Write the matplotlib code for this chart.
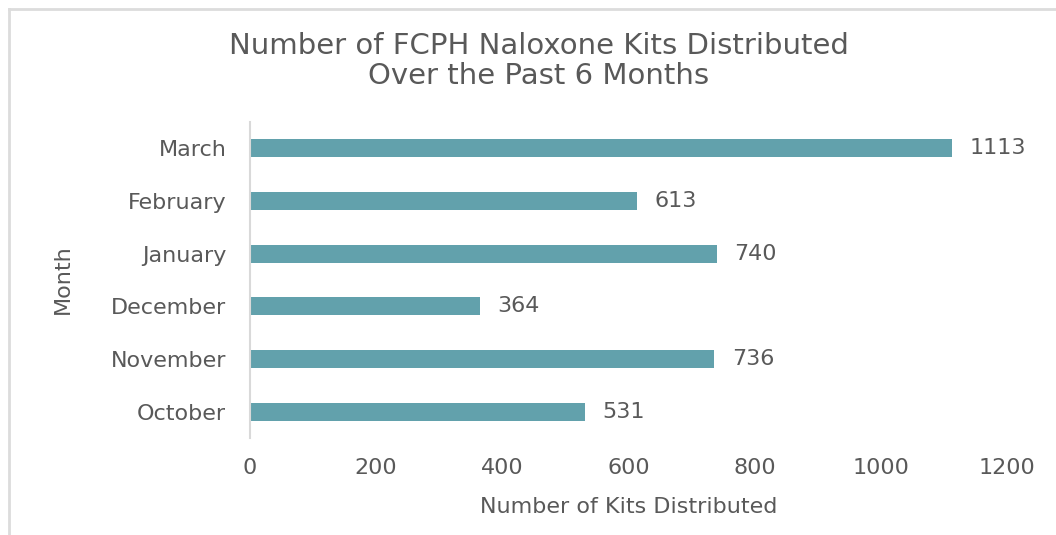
import matplotlib
matplotlib.use("Agg")
import matplotlib.pyplot as plt
from matplotlib.lines import Line2D

months = ["October", "November", "December", "January", "February", "March"]
kits = [531, 736, 364, 740, 613, 1113]
x_ticks = [0, 200, 400, 600, 800, 1000, 1200]

plt.rcParams['font.family'] = ['DejaVu Sans']
txt = '#595959'

fig = plt.figure(figsize=(10.56, 5.35), dpi=100)
ax = fig.add_axes([0.2367, 0.181, 0.7169, 0.591])

bars = ax.barh(range(len(months)), kits, height=0.34, color='#62A1AC')
for b, v in zip(bars, kits):
    ax.text(b.get_width() + 28, b.get_y() + b.get_height() / 2, str(v),
            va='center', ha='left', fontsize=16, color=txt)

ax.set_yticks(range(len(months)))
ax.set_yticklabels(months, fontsize=16, color=txt)
ax.set_xticks(x_ticks)
ax.set_xticklabels([str(t) for t in x_ticks], fontsize=16, color=txt)
ax.set_xlim(0, 1200)
ax.set_ylim(-0.5, len(months) - 0.5)
ax.tick_params(axis='both', length=0)
ax.tick_params(axis='y', pad=17)
ax.tick_params(axis='x', pad=14)

for s in ['top', 'right', 'bottom']:
    ax.spines[s].set_visible(False)
ax.spines['left'].set_color('#D9D9D9')
ax.spines['left'].set_linewidth(1.5)

ax.set_xlabel("Number of Kits Distributed", fontsize=16, color=txt, labelpad=14)
fig.text(0.06, 0.478, "Month", rotation=90, ha='center', va='center',
         fontsize=16, color=txt)
fig.text(0.51, 0.886, "Number of FCPH Naloxone Kits Distributed\nOver the Past 6 Months",
         ha='center', va='center', fontsize=21, color=txt, linespacing=1.1)

# light frame at top and left
fig.add_artist(Line2D([0.0085, 1.0], [0.983, 0.983], transform=fig.transFigure,
                      color='#DCDCDC', lw=2))
fig.add_artist(Line2D([0.0085, 0.0085], [0.0, 0.983], transform=fig.transFigure,
                      color='#DCDCDC', lw=2))

fig.savefig("out.png", dpi=100)
